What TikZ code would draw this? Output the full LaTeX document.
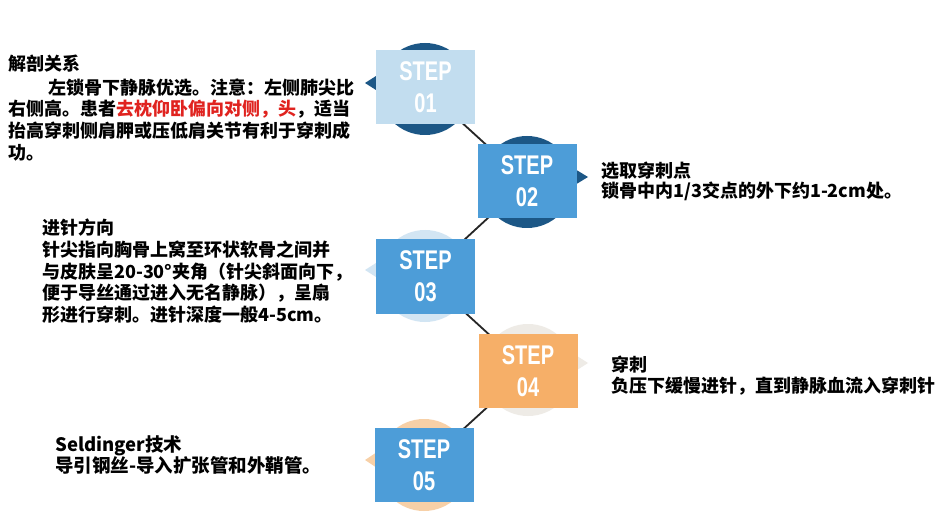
\documentclass[tikz,border=0pt]{standalone}
\usepackage{fontspec}
\newfontfamily\cjk{Noto Sans CJK SC}
\newfontfamily\stepfont{Liberation Sans Bold}[FakeStretch=0.74]
\definecolor{navy}{HTML}{1C5786}
\definecolor{paleblue}{HTML}{D2E5F3}
\definecolor{palegrey}{HTML}{EEEBE6}
\definecolor{peach}{HTML}{F7D0A7}
\definecolor{boxlight}{HTML}{C2DDEF}
\definecolor{boxblue}{HTML}{4D9DD8}
\definecolor{boxorange}{HTML}{F6AF68}
\definecolor{redtext}{HTML}{E0231F}
\tikzset{
  bgcircle/.style={circle, minimum size=92pt, inner sep=0pt, draw=none},
  stepbox/.style={rectangle, minimum width=99pt, minimum height=74pt, inner sep=0pt, text=white, align=center,
    font=\stepfont\fontsize{27}{32}\selectfont},
  link/.style={draw=black!85, line width=1.8pt},
  desc/.style={anchor=north west, inner sep=0pt, align=left, text=black,
    font=\cjk\bfseries\fontsize{18}{21.6}\selectfont},
}
\begin{document}
\begin{tikzpicture}[x=1pt,y=-1pt]
\useasboundingbox[fill=white] (0,0) rectangle (938,516);
% background circles
\node[bgcircle, fill=navy] (c1) at (425,89) {};
\node[bgcircle, fill=navy] (c2) at (527,182) {};
\node[bgcircle, fill=paleblue] (c3) at (425,276) {};
\node[bgcircle, fill=palegrey] (c4) at (528,370) {};
\node[bgcircle, fill=peach] (c5) at (424,465) {};
% pointers
\fill[navy] ([shift={(-60,-6)}]c1.center) -- ([shift={(-38,-20)}]c1.center) -- ([shift={(-38,8)}]c1.center) -- cycle;
\fill[navy] ([shift={(61,-5)}]c2.center) -- ([shift={(38,-19)}]c2.center) -- ([shift={(38,9)}]c2.center) -- cycle;
\fill[paleblue] ([shift={(-60,-6)}]c3.center) -- ([shift={(-38,-20)}]c3.center) -- ([shift={(-38,8)}]c3.center) -- cycle;
\fill[palegrey] ([shift={(60,-7)}]c4.center) -- ([shift={(38,-21)}]c4.center) -- ([shift={(38,7)}]c4.center) -- cycle;
\fill[peach] ([shift={(-59,-5)}]c5.center) -- ([shift={(-38,-19)}]c5.center) -- ([shift={(-38,9)}]c5.center) -- cycle;
% connectors
\draw[link] (c1.center) -- (c2.center) -- (c3.center) -- (c4.center) -- (c5.center);
% step boxes
\node[stepbox, fill=boxlight] (s1) at (425.5,87.5) {STEP\\01};
\node[stepbox, fill=boxblue] (s2) at (527,181.5) {STEP\\02};
\node[stepbox, fill=boxblue] (s3) at (425.5,276.5) {STEP\\03};
\node[stepbox, fill=boxorange] (s4) at (528,371) {STEP\\04};
\node[stepbox, fill=boxblue] (s5) at (424,465) {STEP\\05};
% descriptions
\node[desc] (t1) at (8,55) {解剖关系\\[2pt]
\hspace*{40pt}左锁骨下静脉优选。注意：左侧肺尖比\\
右侧高。患者{\color{redtext}去枕仰卧偏向对侧，头}，适当\\
抬高穿刺侧肩胛或压低肩关节有利于穿刺成\\
功。};
\node[desc] (t2) at (42,219) {进针方向\\
针尖指向胸骨上窝至环状软骨之间并\\
与皮肤呈20-30°夹角（针尖斜面向下，\\
便于导丝通过进入无名静脉），呈扇\\
形进行穿刺。进针深度一般4-5cm。};
\node[desc, font=\cjk\bfseries\fontsize{18}{20}\selectfont] (t3) at (601,162) {选取穿刺点\\
锁骨中内1/3交点的外下约1-2cm处。};
\node[desc, font=\cjk\bfseries\fontsize{18}{21}\selectfont] (t4) at (611,356) {穿刺\\
负压下缓慢进针，直到静脉血流入穿刺针};
\node[desc, font=\cjk\bfseries\fontsize{18.5}{21}\selectfont] (t5) at (55,435) {Seldinger技术\\
导引钢丝-导入扩张管和外鞘管。};
\end{tikzpicture}
\end{document}
